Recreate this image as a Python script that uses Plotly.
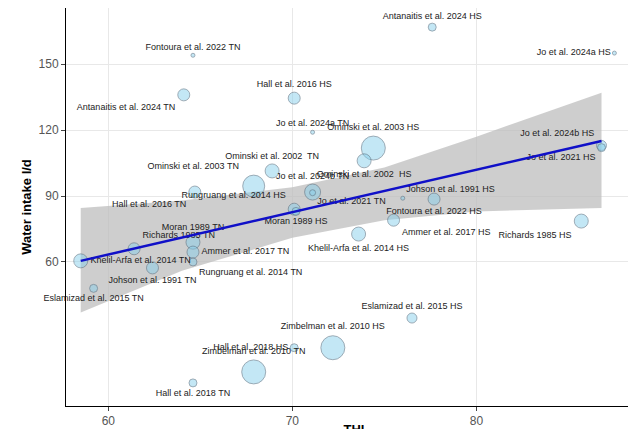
import plotly.graph_objects as go

labels = ["Antanaitis et al. 2024 HS","Jo et al. 2024a HS","Fontoura et al. 2022 TN","Antanaitis et al. 2024 TN",
 "Hall et al. 2016 HS","Jo et al. 2024a TN","Ominski et al. 2003 HS","Ominski et al. 2002  HS","Ominski et al. 2002  TN",
 "Ominski et al. 2003 TN","Hall et al. 2016 TN","Jo et al. 2024b TN","Jo et al. 2021 TN","Rungruang et al. 2014 HS",
 "Moran 1989 HS","Johson et al. 1991 HS","Fontoura et al. 2022 HS","Ammer et al. 2017 HS","Khelil-Arfa et al. 2014 HS",
 "Richards 1985 HS","Jo et al. 2024b HS","Jo et al. 2021 HS","Eslamizad et al. 2015 HS","Zimbelman et al. 2010 HS",
 "Hall et al. 2018 HS","Zimbelman et al. 2010 TN","Hall et al. 2018 TN","Khelil-Arfa et al. 2014 TN","Richards 1985 TN",
 "Moran 1989 TN","Ammer et al. 2017 TN","Rungruang et al. 2014 TN","Johson et al. 1991 TN","Eslamizad et al. 2015 TN"]
thi = [77.6,87.5,64.6,64.1,70.1,71.1,74.4,73.9,68.9,67.9,64.7,71.1,71.1,70.1,70.2,76.0,77.7,75.5,73.6,85.7,86.8,86.8,
       76.5,72.2,70.1,67.9,64.6,58.5,61.4,64.6,64.6,64.6,62.4,59.2]
water = [166.8,155,154,136,134.5,119,111.8,106,101.4,94.5,91.8,91.8,91.5,84,83,89,88.6,79,72.7,78.6,113,112,
         34.5,21,21,10,5,60.5,66,69,64.5,60,57.3,48]
size = [8,4,4,12,12,4,24,14,14,22,12,16,6,12,8,4,12,12,14,14,10,8,10,24,8,24,8,14,12,14,12,8,12,8]
pos = ["top center","middle left","top center","bottom left","top center","top center","top center","bottom center",
       "top center","top left","bottom left","top center","bottom right","top left","bottom center","top right",
       "bottom center","bottom right","bottom center","bottom left","top left","bottom left","top center","top center",
       "middle left","top center","bottom center","middle right","top right","top center","middle right","bottom right",
       "bottom center","bottom center"]

fit_x = [58.5, 86.8]
fit_y = [60.5, 115]
band_x = [58.5, 64, 70, 75, 80, 86.8]
band_lo = [37, 56, 71, 79, 83, 84.5]
band_hi = [84.5, 88, 94, 103, 117, 137]

fig = go.Figure()
fig.add_trace(go.Scatter(x=band_x+band_x[::-1], y=band_hi+band_lo[::-1], mode="lines", fill="toself",
    fillcolor="rgba(190,190,190,0.75)", line=dict(width=0), hoverinfo="skip"))
fig.add_trace(go.Scatter(x=thi, y=water, mode="markers+text", text=labels, textposition=pos, cliponaxis=False,
    textfont=dict(size=9, color="#222", family="Liberation Sans"),
    marker=dict(size=size, color="rgba(135,206,235,0.7)", line=dict(color="#5a7080", width=0.8))))
fig.add_trace(go.Scatter(x=fit_x, y=fit_y, mode="lines", line=dict(color="#1010c8", width=2.5)))
fig.update_layout(width=636, height=429, showlegend=False, plot_bgcolor="white", paper_bgcolor="white",
    margin=dict(l=58, r=2, t=0, b=31, autoexpand=False), font=dict(family="Liberation Sans"))
fig.update_xaxes(range=[57.7, 89.0], tickvals=[60,70,80], showgrid=True, gridcolor="#e8e8e8", zeroline=False,
    showline=True, linecolor="black", ticks="outside", ticklen=4, tickfont=dict(size=12, color="#555"),
    title=dict(text="<b>THI</b>", font=dict(size=13, color="black"), standoff=2))
fig.update_yaxes(range=[-5.5, 175.5], tickvals=[60,90,120,150], showgrid=True, gridcolor="#e8e8e8", zeroline=False,
    showline=True, linecolor="black", ticks="outside", ticklen=4, tickfont=dict(size=12, color="#555"),
    title=dict(text="<b>Water intake l/d</b>", font=dict(size=13, color="black"), standoff=4))
fig.write_html("out.html")
